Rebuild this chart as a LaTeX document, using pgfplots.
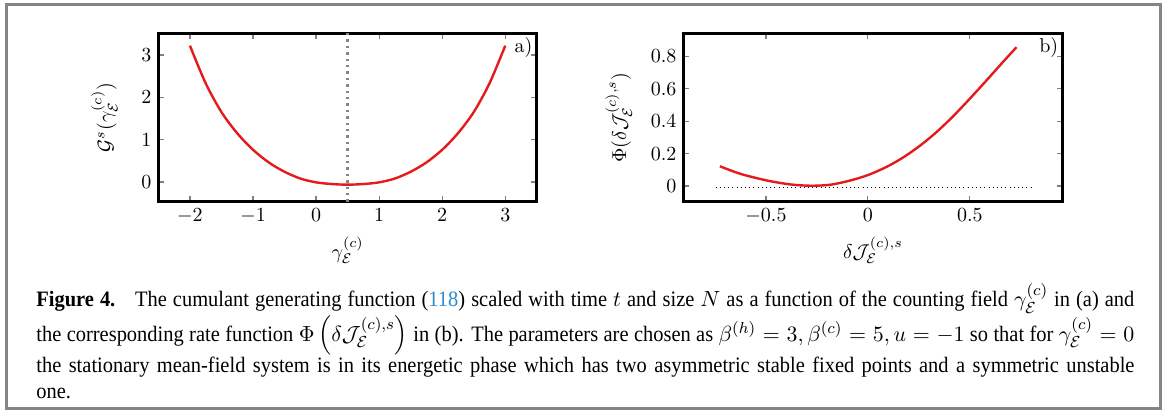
\documentclass[border=0pt]{standalone}
\usepackage{fontspec}
\usepackage{amsmath}
\usepackage{xcolor}
\usepackage{pgfplots}
\pgfplotsset{compat=1.18}
\newfontfamily\capfont[FakeStretch=0.93]{Liberation Serif}
\definecolor{curvered}{HTML}{E41A1C}
\definecolor{framegray}{HTML}{858585}
\definecolor{linkblue}{HTML}{2C8CD2}

\pgfplotsset{
  panel/.style={
    scale only axis,
    axis line style={black, line width=1.5pt},
    tick style={gray, line width=0.6pt},
    major tick length=3pt,
    tick label style={font=\normalsize},
    label style={font=\normalsize},
    clip=false,
  },
}

\begin{document}
\begin{tikzpicture}
  % page size and outer frame
  \path (0pt,0pt) rectangle (587pt,-207pt);
  \draw[framegray, line width=1.5pt] (3.25pt,-2pt) rectangle (580pt,-204pt);

  % (a) cumulant generating function
  \begin{axis}[
      panel,
      at={(79.2pt,-100.9pt)}, anchor=south west,
      width=189.2pt, height=84.2pt,
      xmin=-2.5, xmax=3.5, ymin=-0.47, ymax=3.51,
      xtick={-2,-1,0,1,2,3}, ytick={0,1,2,3},
      xlabel={$\gamma_{\mathcal{E}}^{(c)}$},
      ylabel={$\mathcal{G}^s(\gamma_{\mathcal{E}}^{(c)})$},
      ylabel shift=5pt,
    ]
    \addplot[framegray, line width=1.2pt, dash pattern=on 1.2pt off 2pt]
      coordinates {(0.5,-0.47) (0.5,3.51)};
    \addplot[curvered, line width=1.2pt, smooth] coordinates {
      (-2,3.22) (-1.75,2.33) (-1.5,1.65) (-1.25,1.15) (-1,0.76)
      (-0.75,0.46) (-0.5,0.24) (-0.25,0.08) (0,-0.01) (0.25,-0.05)
      (0.5,-0.065) (0.75,-0.05) (1,-0.01) (1.25,0.08) (1.5,0.24)
      (1.75,0.46) (2,0.76) (2.25,1.15) (2.5,1.65) (2.75,2.33) (3,3.22)
    };
    \node[anchor=north east, inner sep=2pt] at (rel axis cs:1,1) {a)};
  \end{axis}

  % (b) rate function
  \begin{axis}[
      panel,
      at={(341.7pt,-100.9pt)}, anchor=south west,
      width=189.6pt, height=84.2pt,
      xmin=-0.905, xmax=0.955, ymin=-0.097, ymax=0.94,
      xtick={-0.5,0,0.5}, ytick={0,0.2,0.4,0.6,0.8},
      xlabel={$\delta\mathcal{J}_{\mathcal{E}}^{(c),s}$},
      ylabel={$\Phi(\delta\mathcal{J}_{\mathcal{E}}^{(c),s})$},
      ylabel shift=2.5pt,
    ]
    \addplot[black, line width=0.5pt, dash pattern=on 0.5pt off 1.6pt]
      coordinates {(-0.747,-0.01) (0.80,-0.01)};
    \addplot[curvered, line width=1.2pt, smooth] coordinates {
      (-0.726,0.122) (-0.625,0.075) (-0.494,0.034) (-0.38,0.010)
      (-0.282,0.002) (-0.185,0.008) (-0.087,0.034) (0.003,0.069)
      (0.093,0.119) (0.174,0.177) (0.256,0.249) (0.338,0.334)
      (0.419,0.431) (0.5,0.538) (0.582,0.651) (0.664,0.766) (0.729,0.855)
    };
    \node[anchor=north east, inner sep=2pt] at (rel axis cs:1,1) {b)};
  \end{axis}

  % caption
  \node[anchor=north west, inner sep=0pt, text width=549pt, align=justify,
        font=\capfont\fontsize{11}{12.8}\selectfont]
        at (18pt,-141.5pt) {\lineskiplimit=-20pt\relax
    \textbf{Figure 4.}\hspace{0.9em}The cumulant generating function (\textcolor{linkblue}{118}) scaled with time $t$ and size $N$ as a function of the counting field $\gamma_{\mathcal{E}}^{(c)}$ in (a) and\linebreak
    the corresponding rate function $\Phi\left(\delta\mathcal{J}_{\mathcal{E}}^{(c),s}\right)$ in (b). The parameters are chosen as $\beta^{(h)}=3, \beta^{(c)}=5, u=-1$ so that for $\gamma_{\mathcal{E}}^{(c)}=0$\linebreak
    the stationary mean-field system is in its energetic phase which has two asymmetric stable fixed points and a symmetric unstable\linebreak
    one.};
\end{tikzpicture}
\end{document}
